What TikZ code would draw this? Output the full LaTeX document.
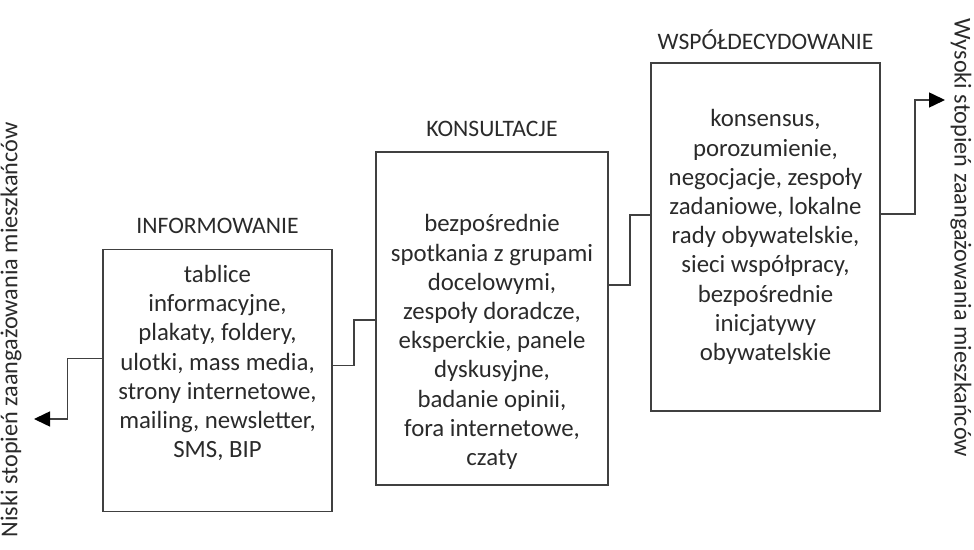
\documentclass[tikz,border=0pt]{standalone}
\usepackage{fontspec}
\setmainfont{Carlito}
\usetikzlibrary{arrows.meta,calc}
\definecolor{linec}{HTML}{404040}
\definecolor{txtc}{HTML}{2A2A2A}
\begin{document}
\begin{tikzpicture}[x=0.5pt,y=-0.5pt,
  box/.style={draw=linec, line width=0.75pt, rectangle, inner sep=0pt},
  txt/.style={align=center, text=txtc, font=\fontsize{12.4}{14.6}\selectfont, inner sep=0pt},
  ttl/.style={text=txtc, font=\fontsize{11.8}{14}\selectfont, inner sep=0pt},
  side/.style={text=txtc, font=\fontsize{12.1}{14}\selectfont, inner sep=0pt},
  conn/.style={draw=linec, line width=0.75pt},
  arr/.style={conn, -{Triangle[length=8pt,width=7.5pt,fill=black,color=black]}}]
\useasboundingbox (0,0) rectangle (974,550);
% boxes
\node[box, minimum width=114.5pt, minimum height=131pt] (b1) at (217.5,380.5) {};
\node[box, minimum width=116pt, minimum height=166.5pt] (b2) at (492,318.5) {};
\node[box, minimum width=114.5pt, minimum height=174pt] (b3) at (765.5,237) {};
% titles
\node[ttl] (h1) at (217.5,226) {INFORMOWANIE};
\node[ttl] (h2) at (492,129) {KONSULTACJE};
\node[ttl] (h3) at (765.5,40) {WSPÓŁDECYDOWANIE};
% contents
\node[txt] (t1) at (217.5,363) {tablice\\informacyjne,\\plakaty, foldery,\\ulotki, mass media,\\strony internetowe,\\mailing, newsletter,\\SMS, BIP};
\node[txt] (t2) at (492,342) {bezpośrednie\\spotkania z grupami\\docelowymi,\\zespoły doradcze,\\eksperckie, panele\\dyskusyjne,\\badanie opinii,\\fora internetowe,\\czaty};
\node[txt] (t3) at (765.5,237) {konsensus,\\porozumienie,\\negocjacje, zespoły\\zadaniowe, lokalne\\rady obywatelskie,\\sieci współpracy,\\bezpośrednie\\inicjatywy\\obywatelskie};
% side labels
\node[side, rotate=90] (lo) at (11,330) {Niski stopień zaangażowania mieszkańców};
\node[side, rotate=-90] (hi) at (961,238) {Wysoki stopień zaangażowania mieszkańców};
% connectors
\coordinate (lend) at (34,419);
\coordinate (rend) at (945,100);
\draw[arr] ($(b1.north west)+(0,110)$) -- ++(-35,0) |- (lend);
\draw[conn] ($(b1.north east)+(0,117)$) -- ++(21,0) |- ($(b2.north west)+(0,169)$);
\draw[conn] ($(b2.north east)+(0,134)$) -- ++(21,0) |- ($(b3.north west)+(0,153)$);
\draw[arr] ($(b3.north east)+(0,152)$) -- ++(34,0) |- (rend);
\end{tikzpicture}
\end{document}
